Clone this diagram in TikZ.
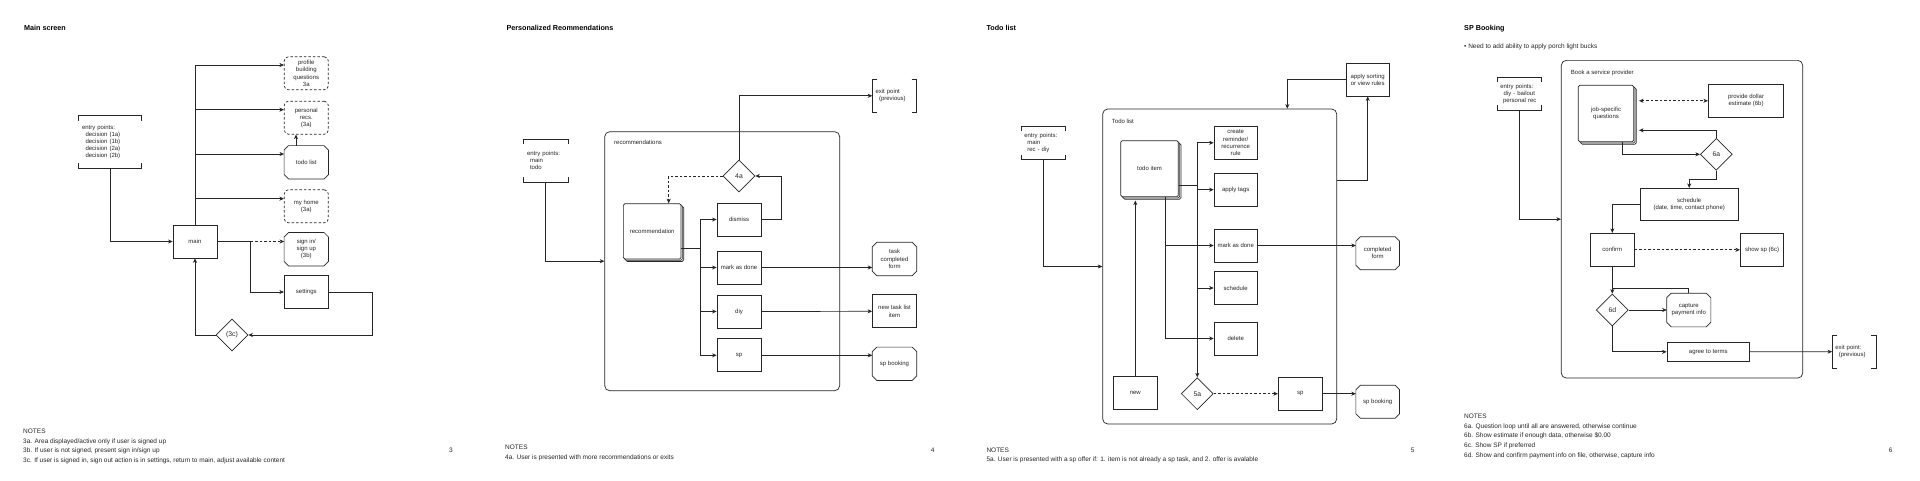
\documentclass[tikz,border=0pt]{standalone}
\usepackage{fontspec}
\setmainfont{Liberation Sans}
\usetikzlibrary{arrows.meta,shapes.geometric,shadows}
\newcommand\hbrk[1]{%
  \draw[ln] ([yshift=-5pt]#1.north west) -- (#1.north west) -- (#1.north east) -- ([yshift=-5pt]#1.north east);
  \draw[ln] ([yshift=5pt]#1.south west) -- (#1.south west) -- (#1.south east) -- ([yshift=5pt]#1.south east);}
\newcommand\vbrk[1]{%
  \draw[ln] ([xshift=5pt]#1.north west) -- (#1.north west) -- (#1.south west) -- ([xshift=5pt]#1.south west);
  \draw[ln] ([xshift=-5pt]#1.north east) -- (#1.north east) -- (#1.south east) -- ([xshift=-5pt]#1.south east);}
\newcommand\octo[1]{%
  \draw[ln] ([xshift=4.5pt]#1.north west) -- ([xshift=-4.5pt]#1.north east) -- ([yshift=-4.5pt]#1.north east)
   -- ([yshift=4.5pt]#1.south east) -- ([xshift=-4.5pt]#1.south east) -- ([xshift=4.5pt]#1.south west)
   -- ([yshift=4.5pt]#1.south west) -- ([yshift=-4.5pt]#1.north west) -- cycle;}
\tikzset{
  ln/.style={line width=0.7pt, draw=black!85},
  arr/.style={ln, -{Stealth[length=4.5pt,width=4pt,inset=1.3pt]}},
  darr/.style={ln, {Stealth[length=4.5pt,width=4pt,inset=1.3pt]}-{Stealth[length=4.5pt,width=4pt,inset=1.3pt]}},
  dsh/.style={dash pattern=on 2.5pt off 2pt},
  tx/.style={font=\fontsize{6}{7.2}\selectfont, align=center, inner sep=0pt, text=black!85},
  bx/.style={tx, draw, ln, minimum width=44pt, minimum height=33pt},
  dbx/.style={bx, dsh, rounded corners=4pt},
  obx/.style={tx, minimum width=44pt, minimum height=33pt},
  dia/.style={diamond, draw, ln, tx, aspect=1, minimum width=32pt, minimum height=32pt, font=\fontsize{6.8}{8}\selectfont},
  stk/.style={tx, draw, ln, fill=white, rounded corners=1.5pt,
    general shadow={shadow xshift=2.6pt, shadow yshift=-2.6pt, draw=black!85, fill=white, line width=0.7pt},
    general shadow={shadow xshift=1.3pt, shadow yshift=-1.3pt, draw=black!85, fill=white, line width=0.7pt}},
  cont/.style={draw, ln, rounded corners=5pt},
  ent/.style={tx, align=left, inner xsep=3pt},
  lbl/.style={tx, anchor=base west},
  note/.style={font=\fontsize{6.5}{9.7}\selectfont, align=left, inner sep=0pt, anchor=north west, text=black!85},
  pg/.style={font=\fontsize{6.5}{8}\selectfont, anchor=base, inner sep=0pt, text=black!85},
  ttl/.style={font=\bfseries\fontsize{7.2}{8}\selectfont, anchor=base west, inner sep=0pt},
}
\begin{document}
\begin{tikzpicture}[x=1pt,y=-1pt]
\fill[white] (0,0) rectangle (1920,480);
\useasboundingbox (0,0) rectangle (1920,480);

% ================= Panel 1: Main screen =================
\node[ttl] (t1) at (24,30.6) {Main screen};
\node[ent, text width=56pt, minimum height=52pt] (e1) at (110,142)
  {entry points:\\\hspace*{3.5pt}decision (1a)\\\hspace*{3.5pt}decision (1b)\\\hspace*{3.5pt}decision (2a)\\\hspace*{3.5pt}decision (2b)};
\hbrk{e1}
\node[bx] (main) at (195,241.5) {main};
\node[dbx] (pbq) at (306.3,73.3) {profile\\building\\questions\\3a};
\node[dbx] (recs) at (306.3,117.7) {personal\\recs.\\(3a)};
\node[obx] (todo) at (306.3,162.3) {todo list}; \octo{todo}
\node[dbx] (home) at (306.3,206.3) {my home\\(3a)};
\node[obx] (signin) at (306.3,249.2) {sign in/\\sign up\\(3b)}; \octo{signin}
\node[bx] (settings) at (306.3,292) {settings};
\node[dia] (d3c) at (232,335) {(3c)};
\coordinate (j1) at (250.7,241.5);

\draw[arr] (e1.south) |- (main.west);
\draw[arr] (main.north) |- ([yshift=8.3pt]pbq.west);
\draw[arr] (main.north) |- ([yshift=8pt]recs.west);
\draw[arr] (main.north) |- ([yshift=8.3pt]todo.west);
\draw[arr] (main.north) |- ([yshift=7.6pt]home.west);
\draw[arr] ([xshift=-10.3pt]todo.north) -- ([xshift=-10.3pt]recs.south);
\draw[ln] (main.east) -- (j1);
\draw[arr,dsh] (j1) -- (signin.west |- j1);
\draw[arr] (j1) |- (settings.west);
\draw[arr] (settings.east) -- ++(43.7,0) |- (d3c.east);
\draw[arr] (d3c.west) -| (main.south);

\node[note] (n1) at (23,428.7) {NOTES\\3a. Area displayed/active only if user is signed up\\3b. If user is not signed, present sign in/sign up\\3c. If user is signed in, sign out action is in settings, return to main, adjust available content};
\node[pg] (pg3) at (451,452.3) {3};

% ================= Panel 2: Personalized Recommendations =================
\node[ttl] (t2) at (506.3,30.6) {Personalized Reommendations};
\node[ent, text width=38pt, minimum height=33pt] (x2) at (894.5,95.8) {exit point\\\hspace*{3.5pt}(previous)};
\vbrk{x2}
\node[ent, text width=37.4pt, minimum height=42.4pt, inner xsep=3.3pt] (e2) at (545.7,160.5) {entry points:\\\hspace*{3pt}main\\\hspace*{3pt}todo};
\hbrk{e2}
\node[cont, minimum width=235pt, minimum height=259pt] (c2) at (722.2,261.2) {};
\node[lbl] (c2l) at (614,144.7) {recommendations};
\node[dia] (d4a) at (739,176) {4a};
\node[stk, minimum width=57.7pt, minimum height=55.3pt] (rec) at (652.2,231.3) {recommendation};
\node[bx] (dis) at (739,219.5) {dismiss};
\node[bx] (mad2) at (739,267.5) {mark as done};
\node[bx] (diy) at (739,311.5) {diy};
\node[bx] (sp2) at (739,355.3) {sp};
\node[obx] (tcf) at (894.5,259) {task\\completed\\form}; \octo{tcf}
\node[bx] (ntl) at (894.5,311.3) {new task list\\item};
\node[obx] (spb2) at (894.5,363.8) {sp booking}; \octo{spb2}
\coordinate (j2) at (700.3,248.3);

\draw[arr] (e2.south) |- (c2.west);
\draw[arr] (d4a.north) |- (x2.west);
\draw[arr,dsh] (d4a.west) -| ([xshift=16.5pt]rec.north);
\draw[arr] (dis.east) -- ++(20,0) |- (d4a.east);
\draw[ln] (rec.east |- j2) -- (j2);
\draw[arr] (j2) |- (dis.west);
\draw[arr] (j2) |- (mad2.west);
\draw[arr] (j2) |- (diy.west);
\draw[arr] (j2) |- (sp2.west);
\draw[arr] (mad2.east) -- (mad2.east -| tcf.west);
\draw[arr] (diy.east) -- (ntl.west);
\draw[arr] (sp2.east) -- (sp2.east -| spb2.west);

\node[note] (n2) at (505,444.7) {NOTES\\4a. User is presented with more recommendations or exits};
\node[pg] (pg4) at (932.7,452.3) {4};

% ================= Panel 3: Todo list =================
\node[ttl] (t3) at (986.3,30.6) {Todo list};
\node[bx, minimum width=43.3pt, minimum height=32.7pt] (sort) at (1367.7,79.7) {apply sorting\\or view rules};
\node[cont, minimum width=234pt, minimum height=315pt] (c3) at (1219.7,266.5) {};
\node[lbl] (c3l) at (1111.7,123.7) {Todo list};
\node[ent, text width=37.4pt, minimum height=33pt] (e3) at (1043,142.8) {entry points:\\\hspace*{3pt}main\\\hspace*{3pt}rec - diy};
\hbrk{e3}
\node[stk, minimum width=57.6pt, minimum height=56pt] (item) at (1149.5,168.7) {todo item};
\node[bx, minimum width=43.3pt] (crt) at (1235.7,142.8) {create\\reminder/\\recurrence\\rule};
\node[bx, minimum width=43.3pt] (tags) at (1235.7,189.7) {apply tags};
\node[bx, minimum width=43.3pt] (mad3) at (1235.7,245.5) {mark as done};
\node[bx, minimum width=43.3pt] (sch3) at (1235.7,288) {schedule};
\node[bx, minimum width=43.3pt] (del) at (1235.7,338.5) {delete};
\node[bx, minimum height=32.6pt] (new) at (1135.3,393) {new};
\node[dia] (d5a) at (1197.3,393.7) {5a};
\node[bx, minimum height=32.7pt] (sp3) at (1300.3,393.7) {sp};
\node[obx, minimum width=43.3pt, minimum height=32.7pt] (spb3) at (1377.7,401.7) {sp booking}; \octo{spb3}
\node[obx, minimum width=43.3pt, minimum height=32.7pt] (cf3) at (1377.7,253.2) {completed\\form}; \octo{cf3}
\coordinate (j3) at (1197.3,185);
\coordinate (itb) at ([yshift=-3.5pt]item.south);

\draw[arr] (sort.west) -| ([xshift=67.6pt]c3.north);
\draw[arr] ([yshift=85.8pt]c3.east) -| (sort.south);
\draw[arr] (e3.south) |- (c3.west);
\draw[ln] (item.east |- j3) -- (j3);
\draw[arr] (j3) |- (crt.west);
\draw[arr] (j3) |- (tags.west);
\draw[arr] (j3) |- (sch3.west);
\draw[arr] (j3) -- (d5a.north);
\draw[arr] ([xshift=15.5pt]item.south) |- (mad3.west);
\draw[arr] ([xshift=15.5pt]item.south) |- (del.west);
\draw[arr] (new.north) -- (new.north |- itb);
\draw[arr,dsh] (d5a.east) -- (sp3.west);
\draw[arr] (sp3.east) -- (sp3.east -| spb3.west);
\draw[arr] (mad3.east) -- (mad3.east -| cf3.west);

\node[note] (n3) at (986.3,447.4) {NOTES\\5a. User is presented with a sp offer if: 1. item is not already a sp task, and 2. offer is avalable};
\node[pg] (pg5) at (1412.7,452.3) {5};

% ================= Panel 4: SP Booking =================
\node[ttl] (t4) at (1464,30.6) {SP Booking};
\node[font=\fontsize{6.5}{8}\selectfont, anchor=base west, inner sep=0pt, text=black!85] (b4) at (1464,48.9) {\textbullet\ Need to add ability to apply porch light bucks};
\node[cont, minimum width=241.4pt, minimum height=317.7pt] (c4) at (1682,219.2) {};
\node[lbl] (c4l) at (1570.7,74.3) {Book a service provider};
\node[ent, text width=38pt, minimum height=32.7pt] (e4) at (1519.3,93.7) {entry points:\\\hspace*{3.3pt}diy - bailout\\\hspace*{2.7pt}personal rec};
\hbrk{e4}
\node[stk, minimum width=55.4pt, minimum height=56.4pt] (jsq) at (1606,113.5) {job-specific\\questions};
\node[bx, minimum width=75.4pt] (pde) at (1746,100.8) {provide dollar\\estimate (6b)};
\node[dia] (d6a) at (1716.3,154.3) {6a};
\node[bx, minimum width=97.7pt, minimum height=32pt] (sch4) at (1689.2,204.3) {schedule\\(date, time, contact phone)};
\node[bx] (conf) at (1612.3,249.8) {confirm};
\node[bx, minimum width=43.4pt] (ssp) at (1762,249.8) {show sp (6c)};
\node[dia] (d6d) at (1612.3,310) {6d};
\node[obx, minimum width=43.7pt, minimum height=33.3pt] (cap) at (1688.8,310) {capture\\payment info}; \octo{cap}
\node[bx, minimum width=82.7pt, minimum height=19.7pt] (agr) at (1708.3,351.8) {agree to terms};
\node[ent, text width=37.7pt, minimum height=32.7pt] (x4) at (1854.2,351.7) {exit point:\\\hspace*{3.5pt}(previous)};
\vbrk{x4}
\coordinate (q1) at (1639,100.8);
\coordinate (q2) at (1639,130.3);

\draw[arr] (e4.south) |- (c4.west);
\draw[darr,dsh] (q1) -- (pde.west);
\draw[arr] (d6a.north) |- (q2);
\draw[arr] ([xshift=16.7pt]jsq.south) |- (d6a.west);
\draw[arr] (d6a.south) -- ++(0,9) -| (sch4.north);
\draw[arr] (sch4.west) -| (conf.north);
\draw[arr,dsh] (conf.east) -- (ssp.west);
\draw[arr] (conf.south) -- (d6d.north);
\draw[arr] (d6d.east) -- (cap.west);
\draw[ln] (cap.north) |- ([yshift=5.3pt]d6d.north);
\draw[arr] (d6d.south) |- (agr.west);
\draw[arr] (agr.east) -- (x4.west);

\node[note] (n4) at (1464,413.7) {NOTES\\6a. Question loop until all are answered, otherwise continue\\6b. Show estimate if enough data, otherwise \$0.00\\6c. Show SP if preferred\\6d. Show and confirm payment info on file, otherwise, capture info};
\node[pg] (pg6) at (1890.7,452.3) {6};
\end{tikzpicture}
\end{document}
